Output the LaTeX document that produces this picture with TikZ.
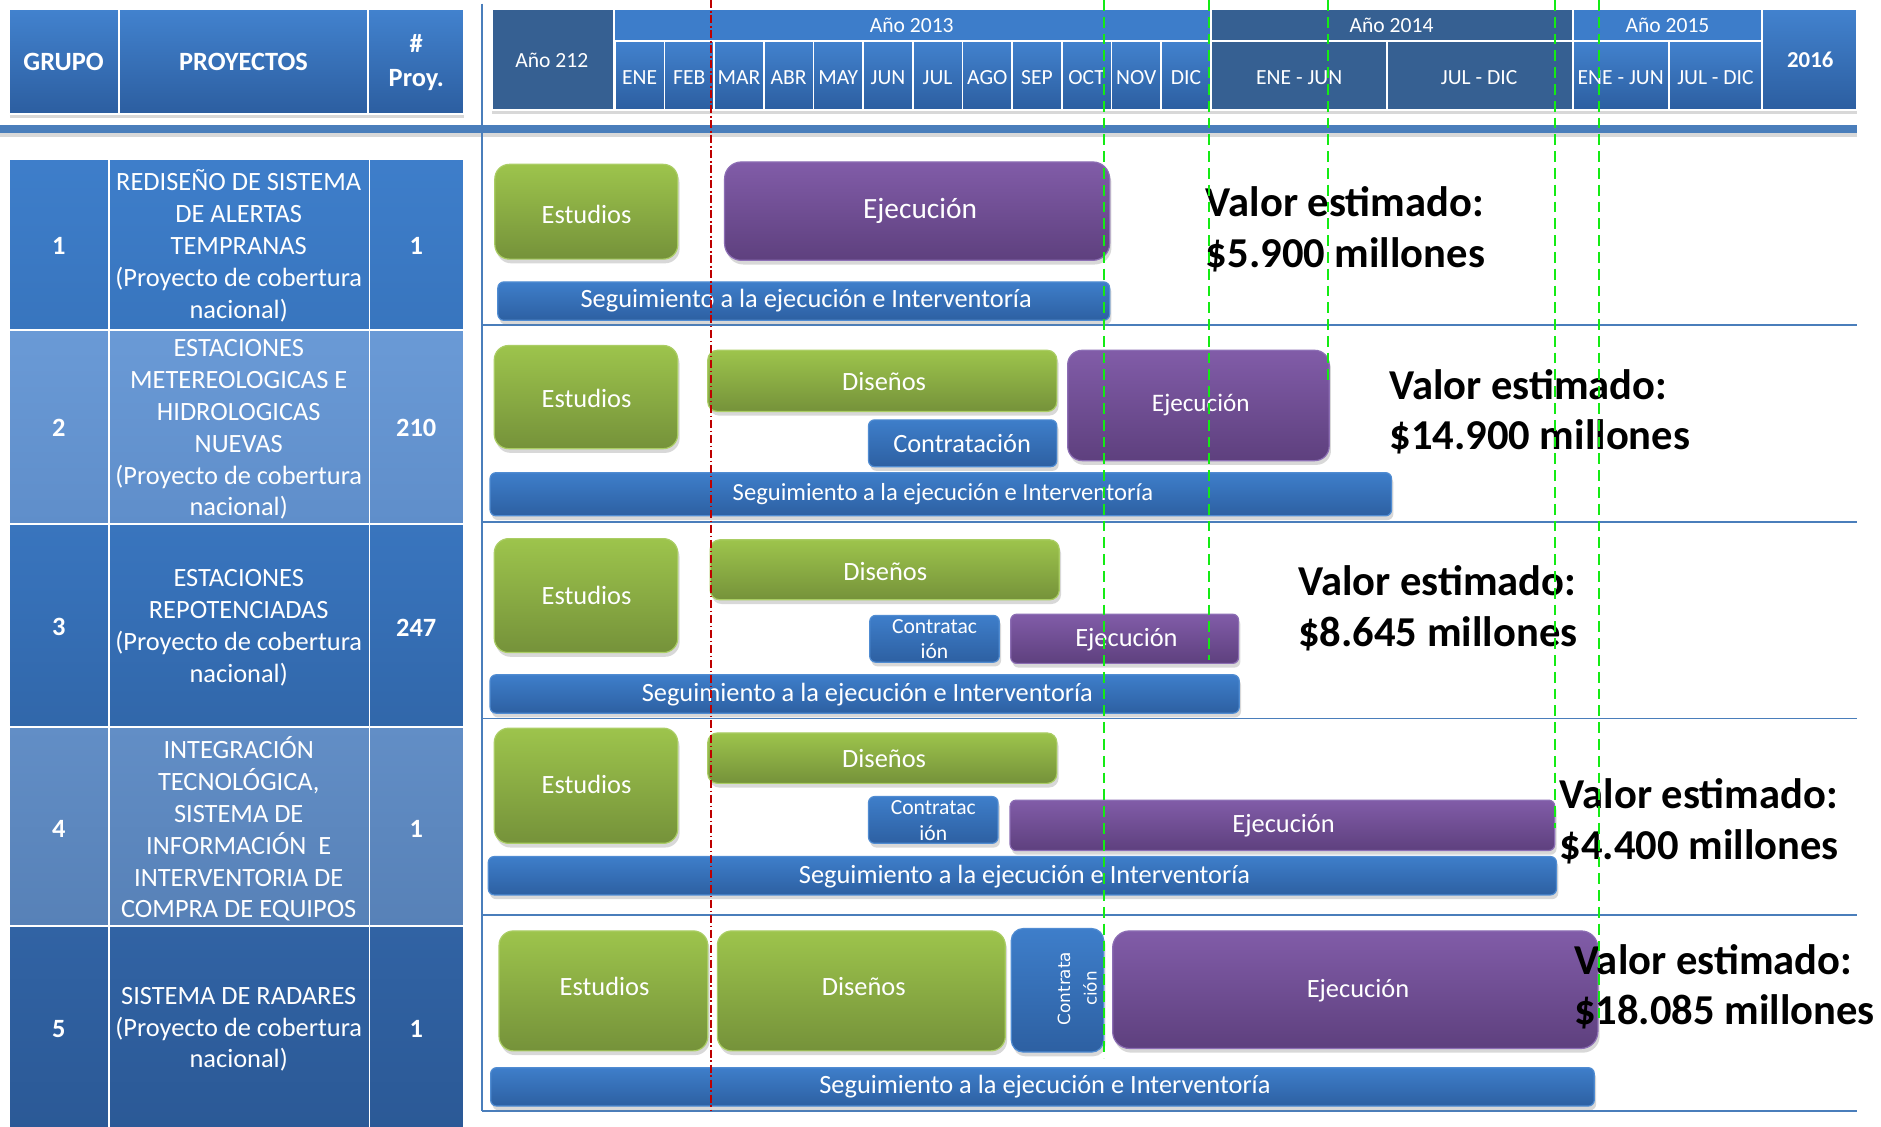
\documentclass[tikz,border=0pt]{standalone}
\usepackage{fontspec}
\setmainfont{Carlito}
\newfontfamily\verdanafont{DejaVu Sans}
\usepackage{tikz}
\usetikzlibrary{shadows}

\definecolor{hdrTop}{RGB}{66,130,206}
\definecolor{hdrBot}{RGB}{44,94,160}
\definecolor{hdrDark}{RGB}{54,96,146}
\definecolor{yearBlue}{RGB}{61,125,202}
\definecolor{barBlue}{RGB}{74,126,187}
\definecolor{grnTop}{RGB}{157,196,76}
\definecolor{grnBot}{RGB}{117,146,58}
\definecolor{grnEdge}{RGB}{170,205,100}
\definecolor{purTop}{RGB}{129,92,168}
\definecolor{purBot}{RGB}{94,64,126}
\definecolor{purEdge}{RGB}{140,110,180}
\definecolor{bluTop}{RGB}{62,126,202}
\definecolor{bluBot}{RGB}{45,96,162}
\definecolor{bluEdge}{RGB}{80,140,210}
\definecolor{guideGreen}{RGB}{20,235,20}
\definecolor{guideRed}{RGB}{190,0,0}

\tikzset{
    hcell/.style={draw=white, line width=1.5pt, top color=hdrTop, bottom color=hdrBot},
    hdark/.style={draw=white, line width=1.5pt, fill=hdrDark},
    hyear/.style={draw=white, line width=1.5pt, fill=yearBlue},
    htxt/.style={text=white, font=\fontsize{18}{21}\selectfont},
    hbold/.style={text=white, align=center, font=\bfseries\fontsize{22}{28}\selectfont},
    hshadow/.style={fill=white, drop shadow={opacity=0.3, shadow xshift=0pt, shadow yshift=-3pt}},
    tcell/.style={draw=white, line width=1.5pt},
    row1/.style={tcell, top color={rgb,255:red,62;green,126;blue,202}, bottom color={rgb,255:red,56;green,117;blue,190}},
    row2/.style={tcell, top color={rgb,255:red,106;green,154;blue,214}, bottom color={rgb,255:red,95;green,142;blue,202}},
    row3/.style={tcell, top color={rgb,255:red,57;green,117;blue,190}, bottom color={rgb,255:red,49;green,103;blue,170}},
    row4/.style={tcell, top color={rgb,255:red,98;green,142;blue,198}, bottom color={rgb,255:red,87;green,129;blue,183}},
    row5/.style={tcell, top color={rgb,255:red,49;green,99;blue,164}, bottom color={rgb,255:red,43;green,89;blue,150}},
    ttxt/.style={text=white, align=center, font=\fontsize{22}{26.6}\selectfont},
    tnum/.style={text=white, font=\bfseries\fontsize{22}{25}\selectfont},
    barshadow/.style={drop shadow={opacity=0.3, shadow xshift=1.5pt, shadow yshift=-3.5pt}},
    greenbar/.style={barshadow, top color=grnTop, bottom color=grnBot, draw=grnEdge, line width=1pt},
    purplebar/.style={barshadow, top color=purTop, bottom color=purBot, draw=purEdge, line width=1pt},
    bluebar/.style={barshadow, top color=bluTop, bottom color=bluBot, draw=bluEdge, line width=1pt},
    bartxt/.style={text=white, font=\fontsize{22}{26}\selectfont},
    smalltxt/.style={text=white, align=center, font=\fontsize{18}{21}\selectfont},
    valtxt/.style={anchor=west, inner sep=0pt, align=left, font=\bfseries\fontsize{35.5}{42}\selectfont},
    rowline/.style={draw=barBlue, line width=1.5pt},
    redguide/.style={draw=guideRed, line width=1.5pt, dash pattern=on 7pt off 2pt on 1.5pt off 2pt},
    greenguide/.style={draw=guideGreen, line width=1.6pt, dash pattern=on 9pt off 5pt}
}

\begin{document}
\begin{tikzpicture}[x=1pt, y=-1pt]
    \useasboundingbox (0,0) rectangle (1568,939);
    \fill[white] (0,0) rectangle (1568,939);

    % Header - left table
    \path[hshadow] (8,8) rectangle (387,95);
    \draw[hcell] (8,8) rectangle (99,95);
    \node[hbold] (grupo) at (53,52) {GRUPO};
    \draw[hcell] (99,8) rectangle (307,95);
    \node[hbold] (proyectos) at (203,52) {PROYECTOS};
    \draw[hcell] (307,8) rectangle (387,95);
    \node[hbold] (nproy) at (347,52) {\#\\Proy.};

    % Header - time line
    \path[hshadow] (410,8) rectangle (1548,92);
    \draw[hdark] (410,8) rectangle (511.5,92);
    \node[htxt] (a2012) at (460,50) {Año 212};
    \draw[hyear] (511.5,8) rectangle (1009.3,34);
    \node[htxt] (a2013) at (760,21) {Año 2013};
    \draw[hcell] (512.5,34) rectangle (553.9,92); \node[htxt] (ene) at (533.2,65) {ENE};
    \draw[hcell] (553.9,34) rectangle (595.3,92); \node[htxt] (feb) at (574.6,65) {FEB};
    \draw[hcell] (595.3,34) rectangle (636.7,92); \node[htxt] (mar) at (616,65) {MAR};
    \draw[hcell] (636.7,34) rectangle (678.1,92); \node[htxt] (abr) at (657.4,65) {ABR};
    \draw[hcell] (678.1,34) rectangle (719.5,92); \node[htxt] (may) at (698.8,65) {MAY};
    \draw[hcell] (719.5,34) rectangle (760.9,92); \node[htxt] (jun) at (740.2,65) {JUN};
    \draw[hcell] (760.9,34) rectangle (802.3,92); \node[htxt] (jul) at (781.6,65) {JUL};
    \draw[hcell] (802.3,34) rectangle (843.7,92); \node[htxt] (ago) at (823,65) {AGO};
    \draw[hcell] (843.7,34) rectangle (885.1,92); \node[htxt] (sep) at (864.4,65) {SEP};
    \draw[hcell] (885.1,34) rectangle (926.5,92); \node[htxt] (oct) at (905.8,65) {OCT};
    \draw[hcell] (926.5,34) rectangle (967.9,92); \node[htxt] (nov) at (947.2,65) {NOV};
    \draw[hcell] (967.9,34) rectangle (1009.3,92); \node[htxt] (dic) at (988.6,65) {DIC};
    \draw[hdark] (1009.3,8) rectangle (1311,34);
    \node[htxt] (a2014) at (1160,21) {Año 2014};
    \draw[hdark] (1009.3,34) rectangle (1156,92);
    \node[htxt] (a14h1) at (1083,65) {ENE - JUN};
    \draw[hdark] (1156,34) rectangle (1311,92);
    \node[htxt] (a14h2) at (1233,65) {JUL - DIC};
    \draw[hyear] (1311,8) rectangle (1469,34);
    \node[htxt] (a2015) at (1390,21) {Año 2015};
    \draw[hcell] (1311,34) rectangle (1391,92);
    \node[htxt] (a15h1) at (1351,65) {ENE - JUN};
    \draw[hcell] (1391,34) rectangle (1469,92);
    \node[htxt] (a15h2) at (1430,65) {JUL - DIC};
    \draw[hcell] (1469,8) rectangle (1548,92);
    \node[hbold, font=\bfseries\fontsize{19}{22}\selectfont] (a2016) at (1509,50) {2016};

    % Separators
    \fill[barBlue, drop shadow={opacity=0.3, shadow xshift=0pt, shadow yshift=-3pt}] (0,104) rectangle (1548,111);
    \draw[rowline] (402,3) -- (402,926);
    \draw[rowline] (402,271) -- (1548,271);
    \draw[rowline] (402,435) -- (1548,435);
    \draw[rowline] (402,599) -- (1548,599);
    \draw[rowline] (402,763) -- (1548,763);
    \draw[rowline] (402,926) -- (1548,926);

    % Project table
    \path[hshadow] (8,133) rectangle (387,945);

    % Row 1
    \draw[row1] (8,133) rectangle (91,275);
    \node[tnum] (g1) at (49,205) {1};
    \draw[row1] (91,133) rectangle (308,275);
    \node[ttxt] (p1) at (199,205) {REDISEÑO DE SISTEMA\\DE ALERTAS\\TEMPRANAS\\(Proyecto de cobertura\\nacional)};
    \draw[row1] (308,133) rectangle (387,275);
    \node[tnum] (n1) at (347,205) {1};

    % Row 2
    \draw[row2] (8,275) rectangle (91,437);
    \node[tnum] (g2) at (49,357) {2};
    \draw[row2] (91,275) rectangle (308,437);
    \node[ttxt] (p2) at (199,358) {ESTACIONES\\METEREOLOGICAS E\\HIDROLOGICAS\\NUEVAS\\(Proyecto de cobertura\\nacional)};
    \draw[row2] (308,275) rectangle (387,437);
    \node[tnum] (n2) at (347,357) {210};

    % Row 3
    \draw[row3] (8,437) rectangle (91,606);
    \node[tnum] (g3) at (49,523) {3};
    \draw[row3] (91,437) rectangle (308,606);
    \node[ttxt] (p3) at (199,523) {ESTACIONES\\REPOTENCIADAS\\(Proyecto de cobertura\\nacional)};
    \draw[row3] (308,437) rectangle (387,606);
    \node[tnum] (n3) at (347,523) {247};

    % Row 4
    \draw[row4] (8,606) rectangle (91,772);
    \node[tnum] (g4) at (49,691) {4};
    \draw[row4] (91,606) rectangle (308,772);
    \node[ttxt] (p4) at (199,691) {INTEGRACIÓN\\TECNOLÓGICA,\\SISTEMA DE\\INFORMACIÓN~~E\\INTERVENTORIA DE\\COMPRA DE EQUIPOS};
    \draw[row4] (308,606) rectangle (387,772);
    \node[tnum] (n4) at (347,691) {1};

    % Row 5
    \draw[row5] (8,772) rectangle (91,945);
    \node[tnum] (g5) at (49,858) {5};
    \draw[row5] (91,772) rectangle (308,945);
    \node[ttxt] (p5) at (199,858) {SISTEMA DE RADARES\\(Proyecto de cobertura\\nacional)};
    \draw[row5] (308,772) rectangle (387,945);
    \node[tnum] (n5) at (347,858) {1};

    % Gantt - row 1
    \path[greenbar, rounded corners=12pt] (412.5,137) rectangle (565,216);
    \node[bartxt] (est1) at (489,179) {Estudios};
    \path[purplebar, rounded corners=14pt] (604,135) rectangle (925,217);
    \node[bartxt, font=\fontsize{24.5}{28}\selectfont] (eje1) at (767,176) {Ejecución};
    \path[bluebar, rounded corners=5pt] (415,235) rectangle (925,267);
    \node[bartxt] (seg1) at (672,251) {Seguimiento a la ejecución e Interventoría};
    \node[valtxt] (val1) at (1005,191) {Valor estimado:\\\$5.900 millones};

    % Gantt - row 2
    \path[greenbar, rounded corners=12pt] (412,288) rectangle (565,374);
    \node[bartxt] (est2) at (489,332) {Estudios};
    \path[greenbar, rounded corners=8pt] (590,292) rectangle (881,343);
    \node[bartxt] (dis2) at (737,318) {Diseños};
    \path[bluebar, rounded corners=5pt] (724,350) rectangle (881,389);
    \node[bartxt] (con2) at (802,370) {Contratación};
    \path[purplebar, rounded corners=12pt] (890,292) rectangle (1108,384);
    \node[bartxt, font=\fontsize{21}{25}\selectfont] (eje2) at (1001,338) {Ejecución};
    \path[bluebar, rounded corners=5pt] (408.5,394) rectangle (1160,430);
    \node[bartxt, font=\fontsize{20.5}{24}\selectfont] (seg2) at (786,412) {Seguimiento a la ejecución e Interventoría};
    \node[valtxt] (val2) at (1158,343.5) {Valor estimado:\\\$14.900 millones};

    % Gantt - row 3
    \path[greenbar, rounded corners=12pt] (412,449) rectangle (565,544);
    \node[bartxt] (est3) at (489,496) {Estudios};
    \path[greenbar, rounded corners=8pt] (592,450) rectangle (883,500);
    \node[bartxt] (dis3) at (738,476) {Diseños};
    \path[bluebar, rounded corners=5pt] (725,513) rectangle (833,552);
    \node[smalltxt] (con3) at (779,533) {Contratac\\ión};
    \path[purplebar, rounded corners=5pt] (842.5,512) rectangle (1032.5,553);
    \node[bartxt] (eje3) at (939,533) {Ejecución};
    \path[bluebar, rounded corners=5pt] (408.5,562.5) rectangle (1033,594.5);
    \node[bartxt] (seg3) at (723,579) {Seguimiento a la ejecución e Interventoría};
    \node[valtxt] (val3) at (1082,507) {Valor estimado:\\\$8.645 millones};

    % Gantt - row 4
    \path[greenbar, rounded corners=12pt] (412,607) rectangle (565,703);
    \node[bartxt] (est4) at (489,654) {Estudios};
    \path[greenbar, rounded corners=8pt] (590,611) rectangle (881,653);
    \node[bartxt] (dis4) at (737,632) {Diseños};
    \path[bluebar, rounded corners=5pt] (724,664) rectangle (832,703);
    \node[smalltxt] (con4) at (778,684) {Contratac\\ión};
    \path[purplebar, rounded corners=5pt] (842,667) rectangle (1296,709);
    \node[bartxt] (eje4) at (1070,688) {Ejecución};
    \path[bluebar, rounded corners=5pt] (407,714) rectangle (1297.5,746);
    \node[bartxt] (seg4) at (854,731) {Seguimiento a la ejecución e Interventoría};
    \node[valtxt] (val4) at (1300,684.5) {Valor estimado:\\\$4.400 millones};

    % Gantt - row 5
    \path[greenbar, rounded corners=12pt] (416,776) rectangle (590,876);
    \node[bartxt] (est5) at (504,822) {Estudios};
    \path[greenbar, rounded corners=12pt] (598,776) rectangle (838,876);
    \node[bartxt] (dis5) at (720,822) {Diseños};
    \path[bluebar, rounded corners=10pt] (843,774) rectangle (920,877);
    \node[text=white, align=center, rotate=90, font=\verdanafont\fontsize{14}{22}\selectfont] (con5) at (898,824) {Contrata\\ción};
    \path[purplebar, rounded corners=14pt] (927.5,776) rectangle (1332,874);
    \node[bartxt] (eje5) at (1132,826) {Ejecución};
    \path[bluebar, rounded corners=5pt] (409,890) rectangle (1329,922);
    \node[bartxt] (seg5) at (871,906) {Seguimiento a la ejecución e Interventoría};
    \node[valtxt] (val5) at (1312,822.5) {Valor estimado:\\\$18.085 millones};

    % Reference dates
    \draw[redguide] (593,0) -- (593,926);
    \draw[greenguide] (920,0) -- (920,882);
    \draw[greenguide] (1008,0) -- (1008,550);
    \draw[greenguide] (1107,0) -- (1107,320);
    \draw[greenguide] (1296,0) -- (1296,690);
    \draw[greenguide] (1333,0) -- (1333,850);
\end{tikzpicture}
\end{document}
